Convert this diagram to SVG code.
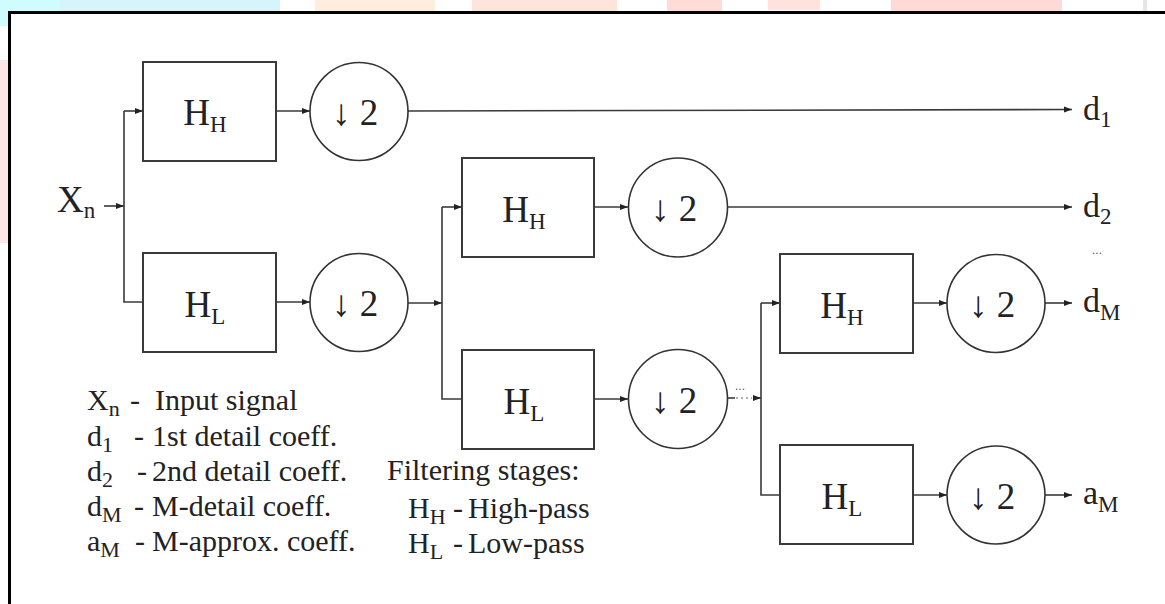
<svg xmlns="http://www.w3.org/2000/svg" width="1165" height="604" viewBox="0 0 1165 604">
  <style>
    .box { fill: #ffffff; stroke: #3a3a3a; stroke-width: 2; }
    .dec { fill: #ffffff; stroke: #333333; stroke-width: 1.6; }
    .wire { fill: none; stroke: #3a3a3a; stroke-width: 1.6; }
    .arrow { fill: none; stroke: #3a3a3a; stroke-width: 1.6; marker-end: url(#head); }
    .dots { fill: none; stroke: #9a9a9a; stroke-width: 1.6; stroke-dasharray: 2 3; }
    .math { font-family: "Liberation Serif", "DejaVu Serif", serif; fill: #222222; }
    .lbl { font-size: 37px; }
    .sub { font-size: 23px; }
    .out { font-size: 34px; }
    .osub { font-size: 23px; }
    .legend { font-family: "Liberation Serif", "Times New Roman", serif; font-size: 30px; fill: #222222; }
    .lsub { font-family: "Liberation Serif", serif; font-size: 22px; fill: #222222; }
    .ell { font-family: "Liberation Sans", sans-serif; font-size: 12px; fill: #555555; }
  </style>
  <defs>
    <marker id="head" markerWidth="9" markerHeight="7" refX="8" refY="3.5" orient="auto" markerUnits="userSpaceOnUse">
      <path d="M0,0.5 L8,3.5 L0,6.5 Z" fill="#222222"/>
    </marker>
  </defs>

  <!-- page background and faint header strip -->
  <rect x="0" y="0" width="1165" height="604" fill="#ffffff"/>
  <g id="header-strip">
    <rect x="0" y="0" width="62" height="12" fill="#cffdfd"/>
    <rect x="0" y="0" width="8" height="26" fill="#cffdfd"/>
    <rect x="60" y="0" width="220" height="12" fill="#d5f5fb"/>
    <rect x="315" y="0" width="120" height="12" fill="#ffeede"/>
    <rect x="472" y="0" width="145" height="12" fill="#ffe4dc"/>
    <rect x="667" y="0" width="55" height="12" fill="#ffdcd8"/>
    <rect x="768" y="0" width="52" height="10" fill="#ffe2de"/>
    <rect x="891" y="0" width="171" height="12" fill="#ffdad6"/>
    <rect x="1143" y="0" width="4" height="12" fill="#e6e6e6"/>
    <rect x="0" y="60" width="8" height="183" fill="#fde6e6"/>
  </g>

  <!-- outer frame (open to the right and bottom) -->
  <path d="M9.5,604 L9.5,12.5 L1165,12.5" fill="none" stroke="#000000" stroke-width="3"/>

  <!-- connectors -->
  <g id="connectors">
    <line class="arrow" x1="104" y1="206" x2="124" y2="206"/>
    <path class="wire" d="M124,111 L124,302 L143,302"/>
    <line class="arrow" x1="124" y1="111" x2="143" y2="111"/>
    <line class="arrow" x1="276" y1="111" x2="310" y2="111"/>
    <line class="arrow" x1="276" y1="302" x2="310" y2="302"/>
    <line class="arrow" x1="408" y1="111" x2="1072" y2="109.5"/>
    <line class="arrow" x1="408" y1="303" x2="442" y2="303"/>

    <path class="wire" d="M442,207 L442,399 L462,399"/>
    <line class="arrow" x1="442" y1="207" x2="462" y2="207"/>
    <line class="arrow" x1="594" y1="207" x2="628" y2="207"/>
    <line class="arrow" x1="594" y1="399" x2="628" y2="399"/>
    <line class="arrow" x1="728" y1="207" x2="1072" y2="207"/>
    <line class="wire" x1="728" y1="398" x2="735" y2="398"/>
    <line class="dots" x1="736" y1="398" x2="752" y2="398"/>
    <line class="arrow" x1="753" y1="398" x2="761" y2="398"/>

    <path class="wire" d="M761,303 L761,495 L780,495"/>
    <line class="arrow" x1="761" y1="303" x2="780" y2="303"/>
    <line class="arrow" x1="913" y1="303" x2="947" y2="303"/>
    <line class="arrow" x1="913" y1="495" x2="947" y2="495"/>
    <line class="arrow" x1="1045" y1="303" x2="1072" y2="303"/>
    <line class="arrow" x1="1045" y1="495" x2="1072" y2="495"/>
  </g>

  <!-- input -->
  <g id="input-xn">
    <text class="math lbl" x="57" y="212">X<tspan class="sub" dy="6">n</tspan></text>
  </g>

  <!-- level 1 -->
  <g id="hh1">
    <rect class="box" x="143" y="62" width="133" height="99"/>
    <text class="math lbl" x="205" y="125" text-anchor="middle">H<tspan class="sub" dy="7">H</tspan></text>
  </g>
  <g id="down1a">
    <circle class="dec" cx="359" cy="111.5" r="49"/>
    <text class="math lbl" x="355" y="125" text-anchor="middle">↓ 2</text>
  </g>
  <g id="hl1">
    <rect class="box" x="143" y="253" width="133" height="99"/>
    <text class="math lbl" x="205" y="317" text-anchor="middle">H<tspan class="sub" dy="7">L</tspan></text>
  </g>
  <g id="down1b">
    <circle class="dec" cx="359" cy="302.5" r="49"/>
    <text class="math lbl" x="355" y="316" text-anchor="middle">↓ 2</text>
  </g>

  <!-- level 2 -->
  <g id="hh2">
    <rect class="box" x="462" y="158" width="132" height="99"/>
    <text class="math lbl" x="524" y="222" text-anchor="middle">H<tspan class="sub" dy="7">H</tspan></text>
  </g>
  <g id="down2a">
    <circle class="dec" cx="678" cy="207.5" r="49.5"/>
    <text class="math lbl" x="674" y="221" text-anchor="middle">↓ 2</text>
  </g>
  <g id="hl2">
    <rect class="box" x="462" y="350" width="132" height="99"/>
    <text class="math lbl" x="524" y="414" text-anchor="middle">H<tspan class="sub" dy="7">L</tspan></text>
  </g>
  <g id="down2b">
    <circle class="dec" cx="678" cy="399" r="49.5"/>
    <text class="math lbl" x="674" y="413" text-anchor="middle">↓ 2</text>
  </g>
  <text class="ell" x="735" y="390">...</text>

  <!-- level M -->
  <g id="hh3">
    <rect class="box" x="780" y="254" width="133" height="99"/>
    <text class="math lbl" x="842" y="318" text-anchor="middle">H<tspan class="sub" dy="7">H</tspan></text>
  </g>
  <g id="down3a">
    <circle class="dec" cx="996" cy="303.5" r="49"/>
    <text class="math lbl" x="992" y="317" text-anchor="middle">↓ 2</text>
  </g>
  <g id="hl3">
    <rect class="box" x="780" y="445" width="133" height="99"/>
    <text class="math lbl" x="842" y="509" text-anchor="middle">H<tspan class="sub" dy="7">L</tspan></text>
  </g>
  <g id="down3b">
    <circle class="dec" cx="996" cy="495" r="49"/>
    <text class="math lbl" x="992" y="509" text-anchor="middle">↓ 2</text>
  </g>

  <!-- outputs -->
  <g id="out-d1"><text class="math out" x="1083" y="120">d<tspan class="osub" dy="7">1</tspan></text></g>
  <g id="out-d2"><text class="math out" x="1083" y="217">d<tspan class="osub" dy="7">2</tspan></text></g>
  <text class="ell" x="1092" y="254">...</text>
  <g id="out-dm"><text class="math out" x="1083" y="312">d<tspan class="osub" dy="8">M</tspan></text></g>
  <g id="out-am"><text class="math out" x="1083" y="504">a<tspan class="osub" dy="8">M</tspan></text></g>

  <!-- legend -->
  <g id="legend">
    <text class="legend" x="87" y="410">X<tspan class="lsub" dy="6">n</tspan></text>
    <text class="legend" x="130" y="410">-</text>
    <text class="legend" x="155" y="410">Input signal</text>

    <text class="legend" x="87" y="446">d<tspan class="lsub" dy="6">1</tspan></text>
    <text class="legend" x="134" y="446">-</text>
    <text class="legend" x="152" y="446">1st detail coeff.</text>

    <text class="legend" x="87" y="481">d<tspan class="lsub" dy="6">2</tspan></text>
    <text class="legend" x="137" y="481">-</text>
    <text class="legend" x="152" y="481">2nd detail coeff.</text>

    <text class="legend" x="87" y="516">d<tspan class="lsub" dy="6">M</tspan></text>
    <text class="legend" x="134" y="516">-</text>
    <text class="legend" x="152" y="516">M-detail coeff.</text>

    <text class="legend" x="87" y="551">a<tspan class="lsub" dy="6">M</tspan></text>
    <text class="legend" x="135" y="551">-</text>
    <text class="legend" x="152" y="551">M-approx. coeff.</text>

    <text class="legend" x="387" y="480">Filtering stages:</text>
    <text class="legend" x="408" y="518">H<tspan class="lsub" dy="6">H</tspan></text>
    <text class="legend" x="453" y="518">-</text>
    <text class="legend" x="468" y="518">High-pass</text>
    <text class="legend" x="408" y="553">H<tspan class="lsub" dy="6">L</tspan></text>
    <text class="legend" x="453" y="553">-</text>
    <text class="legend" x="468" y="553">Low-pass</text>
  </g>
</svg>
